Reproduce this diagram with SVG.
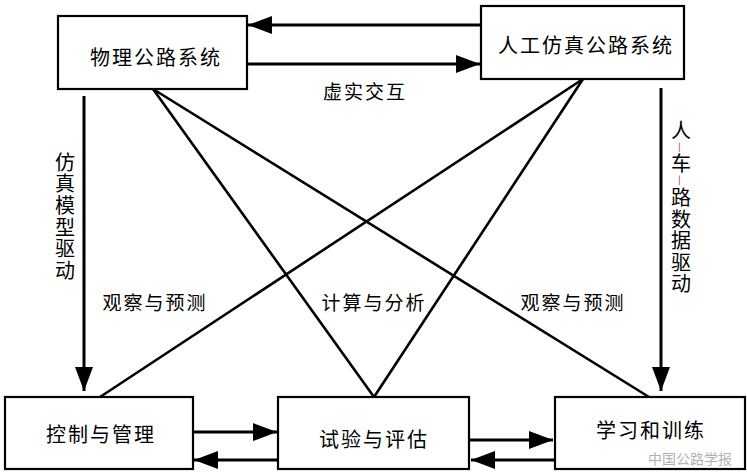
<svg xmlns="http://www.w3.org/2000/svg" width="747" height="474" viewBox="0 0 747 474">
<defs>
<style>
.box{fill:#fff;stroke:#000;stroke-width:2.2}
.t{font-family:"Noto Sans CJK SC","Liberation Sans",sans-serif;font-size:20px;fill:#000;text-anchor:middle;dominant-baseline:central;letter-spacing:2px}
.lab{font-family:"Noto Sans CJK SC","Liberation Sans",sans-serif;font-size:19px;fill:#000;text-anchor:middle;dominant-baseline:central;letter-spacing:2px}
.vt{font-family:"Noto Sans CJK SC","Liberation Sans",sans-serif;font-size:20px;fill:#000;writing-mode:vertical-rl;letter-spacing:1.7px}
.ln{stroke:#000;stroke-width:2.6;fill:none}
.ar{stroke:#000;stroke-width:3;fill:none;marker-end:url(#ah)}
.wm{font-family:"Noto Sans CJK SC","Liberation Sans",sans-serif;font-size:14px;fill:#9a9a9a;fill-opacity:0.8;text-anchor:middle;dominant-baseline:central}
</style>
<marker id="ah" markerUnits="userSpaceOnUse" markerWidth="24" markerHeight="18" refX="24" refY="9" orient="auto">
<path d="M0,0 L24,9 L0,18 Z" fill="#000"/>
</marker>
</defs>
<rect width="747" height="474" fill="#fff"/>
<g id="connectors">
<line class="ar" x1="481" y1="25" x2="248" y2="25"/>
<line class="ar" x1="247" y1="64" x2="480" y2="64"/>
<line class="ar" x1="84" y1="96" x2="84" y2="391"/>
<line class="ar" x1="661" y1="88" x2="661" y2="391"/>
<line class="ar" x1="193" y1="432" x2="277" y2="432"/>
<line class="ar" x1="278" y1="460" x2="194" y2="460"/>
<line class="ar" x1="469" y1="440" x2="553" y2="440"/>
<line class="ar" x1="555" y1="460" x2="471" y2="460"/>
<line class="ln" x1="153" y1="89" x2="374" y2="397"/>
<line class="ln" x1="153" y1="89" x2="649" y2="397"/>
<line class="ln" x1="583" y1="79" x2="100" y2="397"/>
<line class="ln" x1="583" y1="79" x2="374" y2="397"/>
</g>
<g id="labels">
<text class="lab" x="365" y="90">虚实交互</text>
<text class="lab" x="155" y="301">观察与预测</text>
<text class="lab" x="374" y="301">计算与分析</text>
<text class="lab" x="573" y="301">观察与预测</text>
<text class="vt" x="65" y="152">仿真模型驱动</text>
<text class="vt" x="681" y="120" style="letter-spacing:1.5px">人<tspan fill="#b5473f" font-size="12">—</tspan>车<tspan fill="#b5473f" font-size="12">—</tspan>路数据驱动</text>
</g>
<g id="node-physical">
<rect class="box" x="58" y="16" width="189" height="73"/>
<text class="t" x="156" y="56">物理公路系统</text>
</g>
<g id="node-virtual">
<rect class="box" x="481" y="6" width="203" height="73"/>
<text class="t" x="586" y="44">人工仿真公路系统</text>
</g>
<g id="node-control">
<rect class="box" x="5" y="397" width="188" height="72"/>
<text class="t" x="101" y="433">控制与管理</text>
</g>
<g id="node-test">
<rect class="box" x="278" y="397" width="191" height="72"/>
<text class="t" x="374" y="438">试验与评估</text>
</g>
<g id="node-learn">
<rect class="box" x="555" y="397" width="190" height="72"/>
<text class="t" x="651" y="429">学习和训练</text>
<text class="wm" x="690" y="458">中国公路学报</text>
</g>
</svg>
